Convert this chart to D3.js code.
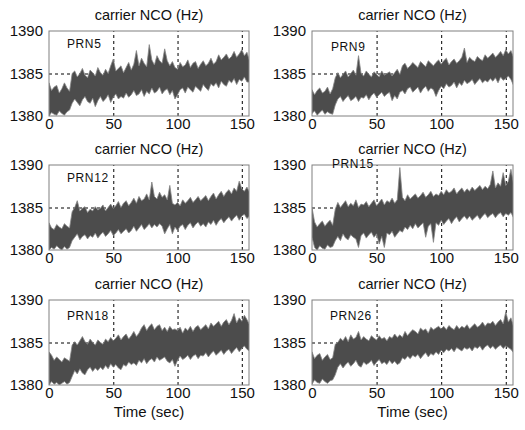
<!DOCTYPE html>
<html><head><meta charset="utf-8">
<script src="https://cdn.jsdelivr.net/npm/d3@7"></script>
<style>body{margin:0;background:#fff}svg{display:block}</style>
</head><body>
<script>
// ---------- data ----------
const time = [0,2,4,6,8,10,12,14,16,18,20,22,24,26,28,30,32,34,36,38,40,42,44,46,48,50,52,54,56,58,60,62,64,66,68,70,72,74,76,78,80,82,84,86,88,90,92,94,96,98,100,102,104,106,108,110,112,114,116,118,120,122,124,126,128,130,132,134,136,138,140,142,144,146,148,150,152,154,156];
const prnNames = ["PRN5","PRN9","PRN12","PRN15","PRN18","PRN26"];
const xTicks = [0,50,100,150];
const yTicks = [1380,1385,1390];
const xGrid = [50,100,150];
const yGrid = [1385];
const panelTitle = "carrier NCO (Hz)";
const xTitle = "Time (sec)";

const hiPRN5 = [1383.9,1383.0,1383.4,1383.6,1382.7,1383.2,1383.9,1383.3,1382.9,1385.0,
 1385.3,1384.6,1385.0,1385.6,1384.8,1384.5,1385.4,1385.1,1384.7,1385.7,
 1385.1,1384.8,1385.5,1385.0,1385.9,1386.7,1385.3,1385.6,1385.9,1385.1,
 1385.7,1386.3,1385.4,1386.1,1387.7,1385.9,1386.8,1386.2,1385.8,1388.4,
 1386.6,1386.0,1387.1,1386.5,1386.2,1387.9,1386.5,1385.9,1386.4,1385.7,
 1385.5,1386.3,1385.8,1386.0,1386.6,1385.7,1386.2,1386.4,1385.6,1386.1,
 1386.5,1385.9,1386.2,1386.8,1386.1,1386.4,1387.2,1386.6,1386.9,1387.3,
 1386.7,1387.0,1387.6,1386.9,1387.3,1387.8,1387.1,1387.5,1386.5];
const loPRN5 = [1380.0,1380.4,1380.2,1380.1,1380.6,1380.3,1380.1,1380.5,1380.7,1381.5,
 1382.0,1381.6,1381.2,1381.9,1382.3,1381.7,1381.5,1382.1,1381.1,1381.8,
 1382.3,1381.7,1382.0,1382.5,1381.6,1382.2,1382.6,1382.0,1382.3,1382.1,
 1382.7,1382.2,1382.5,1383.0,1382.4,1382.6,1383.1,1382.3,1382.9,1382.6,
 1383.3,1382.7,1382.9,1383.4,1382.6,1383.0,1383.2,1382.5,1383.0,1382.0,
 1382.5,1383.1,1383.3,1382.7,1383.4,1383.1,1382.8,1383.5,1383.2,1382.9,
 1383.7,1383.3,1383.0,1383.8,1383.5,1383.9,1383.3,1384.1,1383.7,1383.5,
 1384.2,1383.9,1384.4,1383.7,1384.3,1384.1,1384.6,1384.0,1384.0];

const hiPRN9 = [1383.1,1382.5,1383.0,1383.3,1382.7,1382.9,1383.4,1382.6,1383.2,1384.5,
 1385.1,1384.5,1384.9,1385.3,1384.6,1385.0,1385.4,1384.8,1387.1,1385.0,
 1384.7,1385.3,1384.9,1384.6,1385.2,1384.9,1384.6,1385.3,1384.8,1385.0,
 1385.2,1384.7,1385.1,1385.5,1384.9,1385.9,1386.2,1385.6,1385.9,1386.3,
 1386.0,1385.7,1386.4,1386.1,1385.8,1386.5,1386.2,1385.9,1386.3,1386.6,
 1386.1,1386.5,1386.8,1386.0,1386.4,1386.7,1386.2,1386.5,1386.9,1388.0,
 1386.3,1386.9,1386.6,1386.4,1387.0,1386.7,1386.5,1387.2,1386.8,1387.1,
 1387.4,1386.9,1387.2,1387.6,1387.1,1387.8,1387.3,1387.7,1386.9];
const loPRN9 = [1380.3,1380.6,1380.1,1380.4,1380.7,1380.2,1380.5,1380.3,1380.2,1381.3,
 1382.0,1382.3,1381.7,1382.1,1382.4,1381.8,1382.0,1382.3,1381.7,1382.2,
 1382.1,1382.5,1381.9,1382.4,1382.7,1382.2,1382.5,1382.8,1382.3,1382.6,
 1382.8,1381.8,1382.4,1382.0,1382.8,1383.0,1382.6,1383.2,1383.4,1382.8,
 1383.1,1383.4,1382.7,1383.2,1383.5,1382.9,1383.3,1383.1,1382.3,1383.0,
 1383.5,1383.2,1383.8,1383.4,1383.6,1384.0,1383.3,1383.9,1383.6,1384.2,
 1383.8,1384.0,1384.3,1383.7,1384.1,1384.4,1383.9,1384.2,1384.0,1384.4,
 1384.1,1384.5,1383.9,1384.6,1384.2,1384.4,1384.7,1384.3,1383.6];

const hiPRN12 = [1383.2,1382.6,1382.4,1383.0,1382.7,1382.5,1383.1,1382.8,1382.6,1384.5,
 1385.0,1385.8,1384.6,1384.9,1385.1,1384.4,1384.8,1384.6,1385.1,1384.7,
 1384.9,1385.3,1384.6,1385.0,1385.4,1384.9,1385.2,1385.7,1385.0,1385.5,
 1385.8,1385.2,1385.6,1386.1,1385.5,1386.3,1385.8,1386.0,1386.6,1385.9,
 1388.0,1386.3,1386.0,1386.8,1386.2,1386.5,1385.9,1387.6,1385.5,1385.3,
 1385.6,1385.2,1385.9,1385.5,1385.8,1386.2,1385.6,1385.9,1386.3,1385.8,
 1386.1,1386.4,1385.8,1386.3,1386.7,1386.0,1386.5,1386.9,1386.3,1386.8,
 1387.1,1386.6,1387.3,1386.9,1388.1,1387.2,1386.9,1387.4,1386.8];
const loPRN12 = [1380.0,1380.3,1380.1,1380.5,1380.2,1380.0,1380.4,1380.1,1380.3,1381.1,
 1381.5,1381.9,1381.2,1381.6,1381.8,1381.3,1381.7,1381.5,1382.0,1381.4,
 1381.8,1382.1,1381.6,1381.9,1382.3,1381.7,1382.0,1382.4,1381.9,1382.2,
 1382.5,1382.0,1382.3,1382.8,1382.2,1382.6,1383.0,1382.4,1382.7,1383.1,
 1382.6,1383.0,1382.7,1383.1,1382.8,1381.9,1382.5,1383.0,1381.9,1382.7,
 1382.3,1382.8,1383.0,1382.4,1382.9,1383.2,1382.6,1383.0,1383.3,1382.8,
 1383.1,1382.7,1383.3,1383.0,1383.5,1382.9,1383.4,1383.7,1383.2,1383.6,
 1383.9,1383.4,1383.8,1384.1,1383.5,1384.0,1384.2,1383.7,1384.0];

const hiPRN15 = [1385.0,1383.3,1382.7,1383.1,1383.4,1382.8,1383.2,1383.5,1382.9,1384.8,
 1385.6,1385.0,1385.4,1385.8,1385.1,1385.5,1385.2,1385.9,1385.0,1385.4,
 1385.3,1385.7,1385.1,1385.5,1385.9,1385.2,1385.6,1386.0,1385.3,1385.8,
 1385.6,1386.1,1385.5,1385.9,1389.7,1386.2,1385.8,1386.5,1386.0,1386.3,
 1386.6,1386.1,1386.4,1386.8,1386.2,1386.5,1386.9,1386.3,1386.6,1386.4,
 1386.9,1386.5,1387.1,1386.7,1386.9,1387.3,1386.6,1387.0,1387.3,1386.8,
 1387.2,1386.9,1387.4,1387.0,1387.3,1387.6,1387.1,1387.5,1387.2,1387.7,
 1389.3,1387.3,1387.9,1387.5,1389.1,1387.6,1388.1,1389.5,1387.8];
const loPRN15 = [1381.5,1380.3,1380.0,1380.5,1380.2,1380.1,1380.6,1380.3,1380.4,1381.1,
 1381.6,1381.1,1381.9,1381.4,1381.2,1381.8,1381.5,1381.3,1380.3,1381.7,
 1382.0,1381.4,1381.8,1382.1,1381.5,1381.9,1380.7,1381.6,1380.3,1382.0,
 1381.8,1382.2,1381.5,1381.9,1382.3,1382.1,1382.7,1382.4,1382.9,1382.5,
 1383.1,1382.6,1382.9,1383.2,1381.5,1382.8,1383.1,1380.9,1383.2,1382.9,
 1383.5,1383.0,1383.4,1383.7,1383.1,1383.6,1383.9,1383.3,1383.7,1384.0,
 1383.6,1384.0,1383.5,1383.8,1384.1,1383.6,1384.0,1384.3,1383.8,1384.1,
 1384.3,1383.8,1384.2,1384.4,1383.9,1384.3,1384.1,1384.4,1383.8];

const hiPRN18 = [1383.9,1383.5,1382.9,1383.3,1383.0,1382.7,1383.2,1383.0,1382.8,1384.7,
 1385.1,1384.7,1385.2,1385.7,1385.1,1384.8,1385.4,1385.0,1384.7,1385.3,
 1385.0,1384.8,1385.4,1385.1,1385.6,1385.2,1385.5,1385.9,1385.3,1385.7,
 1386.0,1385.4,1385.8,1386.3,1385.7,1386.1,1386.7,1387.1,1386.4,1386.9,
 1387.2,1386.5,1386.9,1387.1,1386.4,1386.8,1386.3,1386.9,1386.5,1386.6,
 1386.4,1386.8,1386.1,1386.7,1386.4,1386.9,1386.3,1386.8,1387.0,1386.5,
 1386.8,1387.1,1386.6,1387.3,1386.9,1387.2,1387.5,1386.9,1387.4,1387.7,
 1387.1,1387.6,1388.4,1387.3,1387.9,1387.5,1388.2,1387.7,1387.1];
const loPRN18 = [1380.0,1380.4,1380.1,1380.3,1380.0,1380.2,1380.4,1380.1,1380.3,1381.0,
 1381.7,1381.3,1381.9,1381.4,1381.2,1381.8,1382.1,1381.6,1382.0,1381.7,
 1382.1,1381.8,1382.3,1381.9,1382.5,1382.1,1382.4,1382.0,1381.8,1382.4,
 1382.2,1382.7,1382.4,1382.6,1382.3,1382.9,1382.6,1383.1,1382.5,1382.9,
 1383.1,1382.7,1383.3,1382.9,1383.1,1383.3,1382.8,1382.6,1383.0,1382.2,
 1382.9,1383.4,1383.0,1383.2,1383.5,1383.0,1383.4,1383.6,1383.1,1383.5,
 1383.4,1383.8,1383.3,1383.7,1384.0,1383.5,1383.8,1384.1,1383.6,1384.0,
 1384.2,1383.7,1384.1,1384.4,1383.9,1384.3,1384.6,1384.2,1384.0];

const hiPRN26 = [1383.9,1383.1,1383.5,1383.7,1382.9,1383.3,1383.6,1383.0,1383.2,1384.8,
 1385.0,1385.5,1385.2,1385.7,1385.1,1385.9,1385.4,1385.6,1386.3,1385.3,
 1385.7,1385.4,1385.2,1385.8,1385.5,1385.3,1385.8,1385.4,1385.6,1385.2,
 1385.7,1385.5,1386.0,1385.6,1385.9,1385.6,1386.3,1385.8,1386.2,1386.5,
 1386.3,1386.0,1386.7,1386.4,1386.6,1386.1,1386.8,1386.5,1386.7,1386.9,
 1386.6,1386.9,1386.5,1387.0,1386.7,1386.5,1387.0,1386.6,1386.9,1386.7,
 1387.1,1386.6,1386.9,1387.2,1386.8,1387.0,1387.4,1386.9,1387.3,1387.2,
 1387.5,1387.0,1387.4,1387.7,1387.2,1388.6,1387.4,1387.9,1386.9];
const loPRN26 = [1380.1,1380.6,1380.3,1380.2,1380.7,1380.4,1380.2,1380.5,1380.6,1381.2,
 1382.1,1382.5,1382.0,1382.4,1382.7,1382.2,1382.5,1382.9,1382.3,1382.1,
 1382.7,1382.4,1382.6,1382.9,1382.3,1382.7,1383.0,1382.5,1382.7,1382.4,
 1382.9,1382.5,1382.8,1382.4,1382.6,1383.2,1383.0,1383.4,1383.1,1383.5,
 1383.3,1383.6,1383.1,1383.5,1383.8,1383.3,1383.7,1383.5,1383.9,1383.6,
 1384.1,1383.8,1384.2,1384.0,1384.3,1383.9,1384.4,1384.2,1384.0,1384.4,
 1384.2,1384.4,1384.0,1384.5,1384.3,1384.6,1384.1,1384.5,1384.7,1384.3,
 1384.6,1384.2,1384.5,1384.7,1384.3,1384.6,1384.4,1384.2,1383.8];

const hiSeries = [hiPRN5, hiPRN9, hiPRN12, hiPRN15, hiPRN18, hiPRN26];
const loSeries = [loPRN5, loPRN9, loPRN12, loPRN15, loPRN18, loPRN26];

// ---------- layout ----------
const W = 525, H = 430;
const colX = [49, 312], colW = [200, 201];
const rowY = [31, 165, 300], plotH = 85;
const labelDY = [13, 16, 13, -1, 16, 16];
const labelDX = [18, 19, 18, 20, 18, 18];
const xMax = 155.6;
const font = "'Liberation Sans', Arial, sans-serif";

const svg = d3.select("body").append("svg").attr("width", W).attr("height", H)
  .style("font-family", font);

prnNames.forEach((name, i) => {
  const col = i % 2, row = Math.floor(i / 2);
  const w = colW[col];
  const g = svg.append("g").attr("transform", `translate(${colX[col]},${rowY[row]})`);
  const x = d3.scaleLinear().domain([0, xMax]).range([0, w]);
  const y = d3.scaleLinear().domain([1380, 1390]).range([plotH, 0]);

  const clipId = "clip" + i;
  g.append("clipPath").attr("id", clipId).append("rect")
    .attr("width", w).attr("height", plotH);

  // grid (dashed)
  g.append("g")
    .attr("transform", `translate(0,${plotH})`)
    .call(d3.axisBottom(x).tickValues(xGrid).tickSize(-plotH).tickFormat(""))
    .call(s => s.select(".domain").remove())
    .selectAll("line").attr("stroke", "#000").attr("stroke-width", 1)
    .attr("stroke-dasharray", "3,3");
  g.append("g")
    .call(d3.axisLeft(y).tickValues(yGrid).tickSize(-w).tickFormat(""))
    .call(s => s.select(".domain").remove())
    .selectAll("line").attr("stroke", "#000").attr("stroke-width", 1)
    .attr("stroke-dasharray", "3,3");

  // noisy band
  const area = d3.area()
    .x((d, k) => x(time[k]))
    .y0((d, k) => y(loSeries[i][k]))
    .y1((d, k) => y(hiSeries[i][k]));
  g.append("path").datum(time)
    .attr("clip-path", `url(#${clipId})`)
    .attr("d", area)
    .attr("fill", "#4c4c4c")
    .attr("stroke", "#858585").attr("stroke-width", 0.8)
    .attr("stroke-linejoin", "miter");

  // frame
  g.append("rect").attr("width", w).attr("height", plotH)
    .attr("fill", "none").attr("stroke", "#808080").attr("stroke-width", 1);

  // tick labels
  const ax = g.append("g").attr("transform", `translate(0,${plotH})`)
    .call(d3.axisBottom(x).tickValues(xTicks).tickSize(0).tickPadding(2).tickFormat(d3.format("d")));
  ax.select(".domain").remove();
  ax.selectAll("text").attr("font-size", 15).attr("font-family", font).attr("fill", "#111");

  const ay = g.append("g")
    .call(d3.axisLeft(y).tickValues(yTicks).tickSize(0).tickPadding(6).tickFormat(d3.format("d")));
  ay.select(".domain").remove();
  ay.selectAll("text").attr("font-size", 15).attr("font-family", font).attr("fill", "#111");

  // title
  g.append("text").attr("x", w / 2).attr("y", -11)
    .attr("text-anchor", "middle").attr("font-size", 14.5).attr("fill", "#111")
    .text(panelTitle);

  // PRN label
  g.append("text").attr("x", labelDX[i]).attr("y", labelDY[i])
    .attr("dy", "0.35em").attr("font-size", 12).attr("letter-spacing", 0.6)
    .attr("fill", "#111").text(name);

  if (row === 2) {
    g.append("text").attr("x", w / 2).attr("y", plotH + 32)
      .attr("text-anchor", "middle").attr("font-size", 15).attr("fill", "#111")
      .text(xTitle);
  }
});
</script>
</body></html>
